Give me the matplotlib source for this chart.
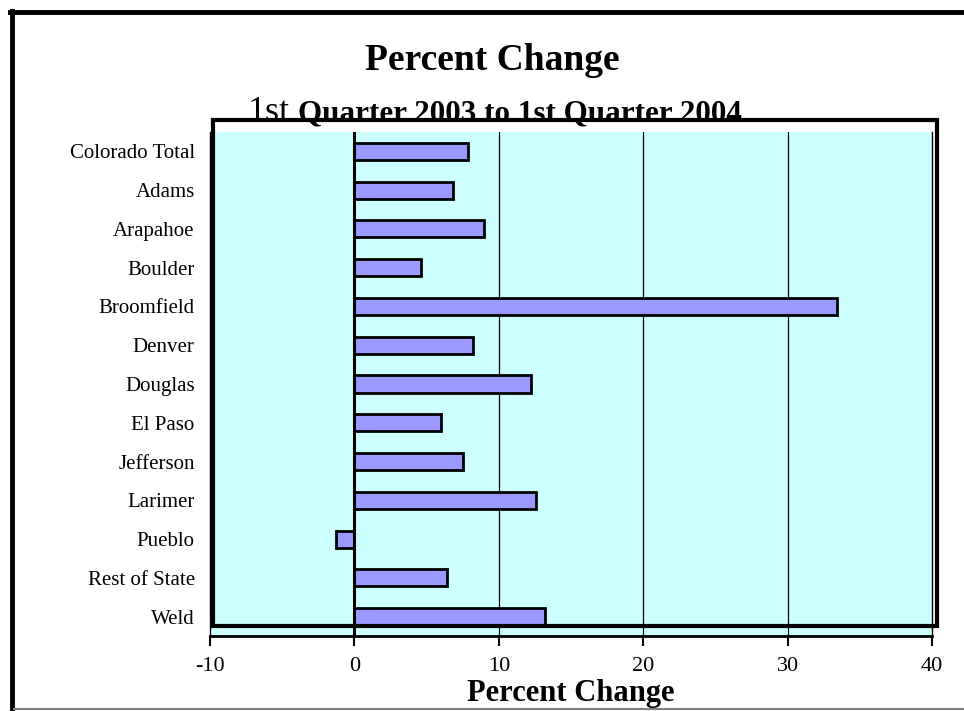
import matplotlib.pyplot as plt
from matplotlib.lines import Line2D
from matplotlib.patches import Rectangle

# data
counties = ['Colorado Total', 'Adams', 'Arapahoe', 'Boulder', 'Broomfield', 'Denver',
            'Douglas', 'El Paso', 'Jefferson', 'Larimer', 'Pueblo', 'Rest of State', 'Weld']
pct_change = [7.9, 6.8, 9.0, 4.6, 33.4, 8.2, 12.2, 6.0, 7.5, 12.6, -1.25, 6.4, 13.2]
x_ticks = [-10, 0, 10, 20, 30, 40]

W, H = 964, 711
plt.rcParams['font.family'] = ['Liberation Serif', 'DejaVu Serif']

fig = plt.figure(figsize=(W / 100, H / 100), dpi=100)
fig.patch.set_facecolor('white')

# plot area in pixel terms of the reference
ax = fig.add_axes([210 / W, 1 - 636 / H, (932 - 210) / W, (636 - 132) / H])
ax.set_facecolor('#CCFFFF')

pos = list(range(len(counties)))
ax.barh(pos, pct_change, height=0.44, color='#9999FF', edgecolor='black',
        linewidth=2, zorder=3)
ax.axvline(0, color='black', linewidth=2.2, zorder=4)
for v in x_ticks[2:-1]:
    ax.axvline(v, color='black', linewidth=0.9, zorder=1)

ax.set_xlim(-10, 40)
ax.set_ylim(len(counties) - 0.5, -0.5)
ax.set_xticks(x_ticks)
ax.set_xticklabels([str(v) for v in x_ticks], fontsize=16)
ax.set_yticks(pos)
ax.set_yticklabels(counties, fontsize=15)
ax.tick_params(axis='y', length=0, pad=11)
ax.tick_params(axis='x', length=7, width=1.5, direction='out', pad=8)

ax.spines['top'].set_visible(False)
ax.spines['left'].set_linewidth(1)
ax.spines['right'].set_linewidth(1)
ax.spines['bottom'].set_linewidth(2)

ax.set_xlabel('Percent Change', fontsize=22, fontweight='bold')
ax.xaxis.set_label_coords(0.5, -0.115)
ax.xaxis.label.set_va('center')

# titles
fig.text(492 / W, 1 - 60 / H, 'Percent Change', fontsize=27, fontweight='bold',
         ha='center', va='center')
fig.text(248 / W, 1 - 121 / H, '1st', fontsize=26, ha='left', va='baseline')
fig.text(298 / W, 1 - 121 / H, 'Quarter 2003 to 1st Quarter 2004', fontsize=22.4,
         fontweight='bold', ha='left', va='baseline')

# thick overlapping box
fig.add_artist(Rectangle((213 / W, 1 - 626 / H), (937 - 213) / W, (626 - 120) / H,
                         transform=fig.transFigure, fill=False, edgecolor='black',
                         linewidth=3, zorder=10))

# outer frame
fig.add_artist(Line2D([12 / W, 12 / W], [1 - 709 / H, 1 - 11 / H], color='black',
                      linewidth=3.5, transform=fig.transFigure))
fig.add_artist(Line2D([10 / W, 1], [1 - 12 / H, 1 - 12 / H], color='black', linewidth=3.5,
                      transform=fig.transFigure))
fig.add_artist(Line2D([14 / W, 1], [1 - 709 / H, 1 - 709 / H], color='gray', linewidth=1.5,
                      transform=fig.transFigure))

fig.savefig('out.png', dpi=100)
